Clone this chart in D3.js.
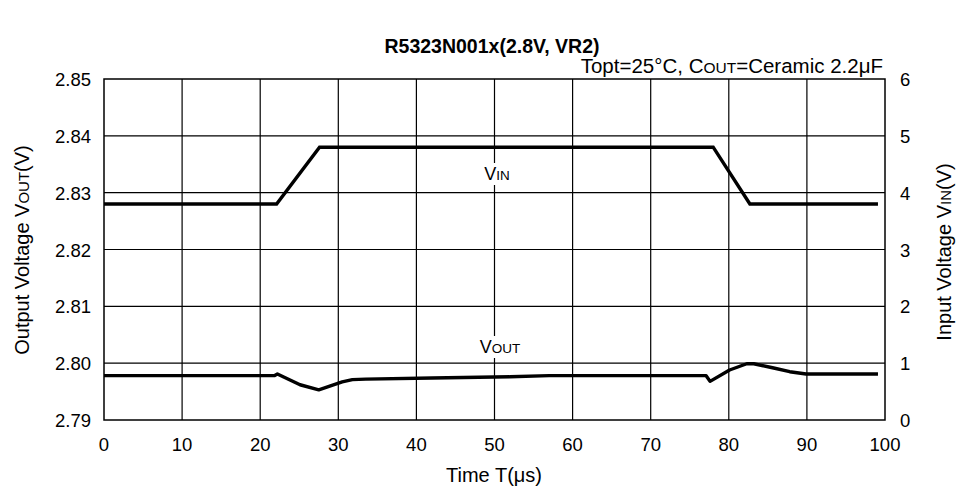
<!DOCTYPE html>
<html><head><meta charset="utf-8">
<script src="https://cdn.jsdelivr.net/npm/d3@7"></script>
<style>body{margin:0;background:#fff}svg{font-family:"Liberation Sans",Arial,sans-serif}</style>
</head><body><svg id="c" width="961" height="489"></svg>
<script>
const xTicks = [0,10,20,30,40,50,60,70,80,90,100];
const yLeftTicks = [2.79,2.80,2.81,2.82,2.83,2.84,2.85];
const yRightTicks = [0,1,2,3,4,5,6];
const vinT = [0, 22.1, 27.6, 78.0, 82.7, 99.1];
const vinV = [3.8, 3.8, 4.8, 4.8, 3.8, 3.8];
const voutT = [0, 21.8, 22.2, 25.1, 27.5, 30.5, 31.8, 33.5, 42, 52, 57, 77.1, 77.6, 80.1, 82.3, 83.2, 85.6, 87.8, 89.9, 99.1];
const voutV = [2.7978, 2.7978, 2.7981, 2.7962, 2.7953, 2.7967, 2.7971, 2.7972, 2.7974, 2.7976, 2.7978, 2.7978, 2.7968, 2.7988, 2.7999, 2.7999, 2.7992, 2.7985, 2.7981, 2.7981];

const svg = d3.select("#c");
const L=104, R=885, T=79, B=420;
const x = d3.scaleLinear().domain([0,100]).range([L,R]);
const yl = d3.scaleLinear().domain([2.79,2.85]).range([B,T]);
const yr = d3.scaleLinear().domain([0,6]).range([B,T]);

// grid
svg.append("g").selectAll("line").data(xTicks.slice(1,-1)).join("line")
  .attr("x1",d=>x(d)).attr("x2",d=>x(d)).attr("y1",T).attr("y2",B)
  .attr("stroke","#000").attr("stroke-width",1.2);
svg.append("g").selectAll("line").data(yLeftTicks.slice(1,-1)).join("line")
  .attr("y1",d=>yl(d)).attr("y2",d=>yl(d)).attr("x1",L).attr("x2",R)
  .attr("stroke","#000").attr("stroke-width",1.2);
svg.append("rect").attr("x",L).attr("y",T).attr("width",R-L).attr("height",B-T)
  .attr("fill","none").attr("stroke","#000").attr("stroke-width",1.5);

// axes tick labels
const fs = 18.5;
svg.append("g").selectAll("text").data(xTicks).join("text")
  .attr("x",d=>x(d)).attr("y",451).attr("text-anchor","middle").attr("font-size",fs).text(d=>d);
svg.append("g").selectAll("text").data(yLeftTicks).join("text")
  .attr("x",91).attr("y",d=>yl(d)+7).attr("text-anchor","end").attr("font-size",fs).text(d=>d.toFixed(2));
svg.append("g").selectAll("text").data(yRightTicks).join("text")
  .attr("x",900).attr("y",d=>yr(d)+7).attr("text-anchor","start").attr("font-size",fs).text(d=>d);

// lines
const lineV = d3.line().x(d=>x(d[0])).y(d=>yr(d[1]));
const lineO = d3.line().x(d=>x(d[0])).y(d=>yl(d[1]));
svg.append("path").datum(vinT.map((t,i)=>[t,vinV[i]])).attr("d",lineV)
  .attr("fill","none").attr("stroke","#000").attr("stroke-width",3.4).attr("stroke-linejoin","miter");
svg.append("path").datum(voutT.map((t,i)=>[t,voutV[i]])).attr("d",lineO)
  .attr("fill","none").attr("stroke","#000").attr("stroke-width",3.4).attr("stroke-linejoin","round");

// in-plot labels with white background
function subLabel(cx, baseline, main, sub){
  const g = svg.append("g");
  const bg = g.append("rect").attr("fill","#fff");
  const t = g.append("text").attr("y",baseline).attr("font-size",18).attr("text-anchor","middle").attr("x",cx);
  t.append("tspan").text(main);
  t.append("tspan").attr("font-size",13.5).text(sub);
  const bb = t.node().getBBox();
  bg.attr("x",bb.x-1).attr("y",bb.y-1).attr("width",bb.width+2).attr("height",bb.height+2);
}
subLabel(497, 180, "V", "IN");
subLabel(500, 353, "V", "OUT");

// titles
svg.append("text").attr("x",492).attr("y",53).attr("text-anchor","middle")
  .attr("font-size",19.5).attr("font-weight","bold").text("R5323N001x(2.8V, VR2)");
const st = svg.append("text").attr("x",883).attr("y",73).attr("text-anchor","end").attr("font-size",20.5);
st.append("tspan").text("Topt=25°C, C");
st.append("tspan").attr("font-size",15.5).text("OUT");
st.append("tspan").text("=Ceramic 2.2μF");

svg.append("text").attr("x",494).attr("y",482).attr("text-anchor","middle").attr("font-size",20).text("Time T(μs)");
const lt = svg.append("text").attr("transform","translate(29,250) rotate(-90)").attr("text-anchor","middle").attr("font-size",20);
lt.append("tspan").text("Output Voltage V");
lt.append("tspan").attr("font-size",15).text("OUT");
lt.append("tspan").text("(V)");
const rt = svg.append("text").attr("transform","translate(951,252) rotate(-90)").attr("text-anchor","middle").attr("font-size",20);
rt.append("tspan").text("Input Voltage V");
rt.append("tspan").attr("font-size",15).text("IN");
rt.append("tspan").text("(V)");
</script></body></html>
